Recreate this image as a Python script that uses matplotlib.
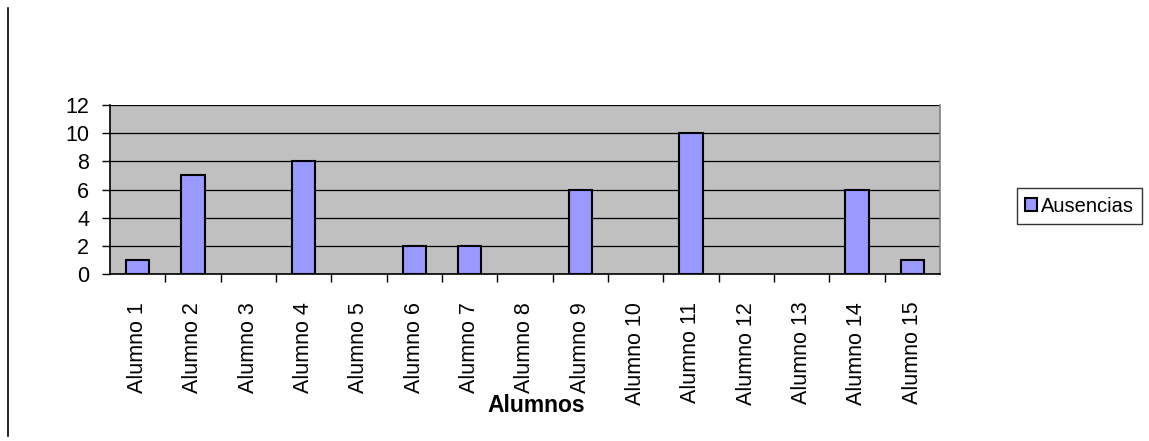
import numpy as np
import matplotlib.pyplot as plt
from matplotlib.lines import Line2D

plt.rcParams['font.family'] = ['Liberation Sans', 'DejaVu Sans']

alumnos = ["Alumno %d" % i for i in range(1, 16)]
ausencias = [1, 7, 0, 8, 0, 2, 2, 0, 6, 0, 10, 0, 0, 6, 1]
y_ticks = [0, 2, 4, 6, 8, 10, 12]

W, H = 1149, 441
fig = plt.figure(figsize=(W / 100, H / 100), dpi=100)
ax = fig.add_axes([110 / W, (H - 274) / H, (940 - 110) / W, (274 - 105) / H])
ax.set_facecolor("#C0C0C0")

x = np.arange(len(alumnos))
# no outline on empty bars
lw = [1.5 if v > 0 else 0 for v in ausencias]
ax.bar(x, ausencias, width=0.42, color="#9999FF", edgecolor="black",
       linewidth=lw, label="Ausencias", zorder=3)

ax.set_xlim(-0.5, len(alumnos) - 0.5)
ax.set_ylim(0, 12)
ax.set_yticks(y_ticks)
ax.yaxis.grid(True, color="black", linewidth=0.9, zorder=1)
ax.set_axisbelow(True)

ax.set_xticks(x)
ax.set_xticklabels(alumnos, rotation=90, fontsize=15.5)
ax.set_xticks(np.arange(0.5, len(alumnos) - 0.5, 1), minor=True)
ax.tick_params(axis="x", which="major", length=0, pad=20)
ax.tick_params(axis="x", which="minor", length=6, width=1, direction="out")
ax.tick_params(axis="y", length=6, width=1, direction="out", labelsize=15.5, pad=9)
ax.set_xlabel("Alumnos", fontsize=16.5, fontweight="bold", va="center")
ax.xaxis.set_label_coords(0.514, (274 - 406) / 169)

for s in ["left", "bottom"]:
    ax.spines[s].set_color("black")
    ax.spines[s].set_linewidth(1.2)
ax.spines["top"].set_visible(False)
ax.spines["right"].set_color("#808080")
ax.spines["right"].set_linewidth(1.2)

leg = fig.legend(loc="center left", bbox_to_anchor=(1017 / W, 1 - 206 / H),
                 fontsize=14.5, frameon=True, fancybox=False, edgecolor="black",
                 handlelength=0.6, handleheight=0.6, handletextpad=0.2,
                 borderpad=0.4, borderaxespad=0)
leg.get_frame().set_linewidth(1.0)

fig.add_artist(Line2D([8 / W, 8 / W], [1 - 8 / H, 1 - 436 / H],
                      transform=fig.transFigure, color="black", linewidth=1.2))

fig.savefig("out.png", dpi=100)
